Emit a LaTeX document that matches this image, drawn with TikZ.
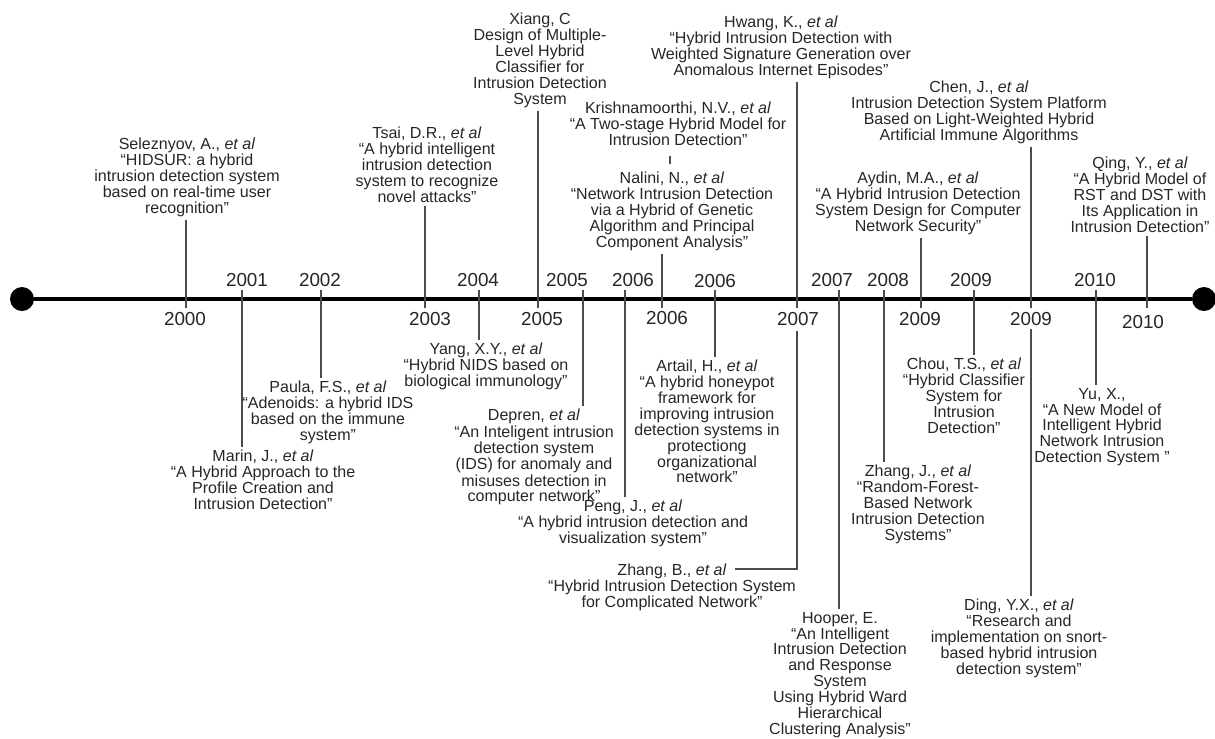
\documentclass[tikz,border=0pt]{standalone}
\usepackage{fontspec}
\setmainfont{Liberation Sans}
\usetikzlibrary{calc,positioning}
\tikzset{
	paper/.style={align=center,font=\fontsize{11.4}{11.3}\selectfont,text=black!85,inner sep=2pt,anchor=north},
	year/.style={font=\fontsize{13.4}{14}\selectfont,text=black!85,inner sep=1pt},
	link/.style={draw=black!70,line width=0.9pt},
	axis/.style={draw=black,line width=2.8pt},
	dot/.style={circle,fill=black,minimum size=6mm,inner sep=0pt},
}

\begin{document}
\begin{tikzpicture}[x=0.025cm,y=-0.025cm]
				\useasboundingbox (0,0) rectangle (1215,738);
				% time axis
				\node (start) at (22,299) [dot] {};
				\node (stop) at (1204,299) [dot] {};
				\draw[axis] (start) -- (stop);
				% papers above the axis
				\node (selez) at (187,135) [paper] {Seleznyov, A., \textit{et al}\\“HIDSUR: a hybrid\\intrusion detection system\\based on real-time user\\recognition"};
				\node (tsai) at (427,124) [paper] {Tsai, D.R., \textit{et al}\\“A hybrid intelligent\\intrusion detection\\system to recognize\\novel attacks"};
				\node (xiang) at (540,10) [paper] {Xiang, C\\Design of Multiple-\\Level Hybrid\\Classifier for\\Intrusion Detection\\System};
				\node (krish) at (678,99) [paper] {Krishnamoorthi, N.V., \textit{et al}\\“A Two-stage Hybrid Model for\\Intrusion Detection"};
				\node (nalini) at (672,169) [paper] {Nalini, N., \textit{et al}\\“Network Intrusion Detection\\via a Hybrid of Genetic\\Algorithm and Principal\\Component Analysis"};
				\node (hwang) at (781,13) [paper] {Hwang, K., \textit{et al}\\“Hybrid Intrusion Detection with\\Weighted Signature Generation over\\Anomalous Internet Episodes"};
				\node (chen) at (979,78) [paper] {Chen, J., \textit{et al}\\Intrusion Detection System Platform\\Based on Light-Weighted Hybrid\\Artificial Immune Algorithms};
				\node (aydin) at (918,169) [paper] {Aydin, M.A., \textit{et al}\\“A Hybrid Intrusion Detection\\System Design for Computer\\Network Security"};
				\node (qing) at (1140,154) [paper] {Qing, Y., \textit{et al}\\“A Hybrid Model of\\RST and DST with\\Its Application in\\Intrusion Detection"};
				% papers below the axis
				\node (marin) at (263,447) [paper] {Marin, J., \textit{et al}\\“A Hybrid Approach to the\\Profile Creation and\\Intrusion Detection"};
				\node (paula) at (328,378) [paper] {Paula, F.S., \textit{et al}\\“Adenoids: a hybrid IDS\\based on the immune\\system"};
				\node (yang) at (486,340) [paper] {Yang, X.Y., \textit{et al}\\“Hybrid NIDS based on\\biological immunology"};
				\node (depren) at (534,406) [paper,font=\fontsize{11.4}{10.6}\selectfont] {Depren, \textit{et al}\\“An Inteligent intrusion\\detection system\\(IDS) for anomaly and\\misuses detection in\\computer network"};
				\node (peng) at (633,497) [paper] {Peng, J., \textit{et al}\\“A hybrid intrusion detection and\\visualization system"};
				\node (zhangb) at (672,561) [paper] {Zhang, B., \textit{et al}\\“Hybrid Intrusion Detection System\\for Complicated Network"};
				\node (artail) at (707,357) [paper] {Artail, H., \textit{et al}\\“A hybrid honeypot\\framework for\\improving intrusion\\detection systems in\\protectiong\\organizational\\network"};
				\node (hooper) at (840,609) [paper] {Hooper, E.\\“An Intelligent\\Intrusion Detection\\and Response\\System\\Using Hybrid Ward\\Hierarchical\\Clustering Analysis"};
				\node (zhangj) at (918,462) [paper] {Zhang, J., \textit{et al}\\“Random-Forest-\\Based Network\\Intrusion Detection\\Systems"};
				\node (chou) at (964,355) [paper] {Chou, T.S., \textit{et al}\\“Hybrid Classifier\\System for\\Intrusion\\Detection"};
				\node (yu) at (1102,385) [paper] {Yu, X.,\\“A New Model of\\Intelligent Hybrid\\Network Intrusion\\Detection System "};
				\node (ding) at (1019,596) [paper] {Ding, Y.X., \textit{et al}\\“Research and\\implementation on snort-\\based hybrid intrusion\\detection system"};
				% years under the axis
				\node (y2000) at (185,319) [year] {2000};
				\node (y2003) at (430,319) [year] {2003};
				\node (y2005b) at (542,319) [year] {2005};
				\node (y2006b) at (667,318) [year] {2006};
				\node (y2007b) at (798,319) [year] {2007};
				\node (y2009b) at (920,319) [year] {2009};
				\node (y2009c) at (1031,319) [year] {2009};
				\node (y2010b) at (1143,322) [year] {2010};
				% years over the axis
				\node (y2001) at (247,280) [year] {2001};
				\node (y2002) at (320,280) [year] {2002};
				\node (y2004) at (478,280) [year] {2004};
				\node (y2005) at (567,280) [year] {2005};
				\node (y2006) at (633,280) [year] {2006};
				\node (y2006a) at (715,281) [year] {2006};
				\node (y2007) at (832,280) [year] {2007};
				\node (y2008) at (888,280) [year] {2008};
				\node (y2009) at (971,280) [year] {2009};
				\node (y2010) at (1095,280) [year] {2010};
				% ticks just under the axis
				\coordinate (T1) at (186,308);
				\coordinate (T2) at (425,308);
				\coordinate (T3) at (538,308);
				\coordinate (T4) at (662,308);
				\coordinate (T5) at (797,308);
				\coordinate (T6) at (921,308);
				\coordinate (T7) at (1031,308);
				\coordinate (T8) at (1147,308);
				% ticks just over the axis
				\coordinate (B1) at (242,290);
				\coordinate (B2) at (321,290);
				\coordinate (B3) at (479,290);
				\coordinate (B4) at (583,290);
				\coordinate (B5) at (625,290);
				\coordinate (B6) at (715,290);
				\coordinate (B7) at (839,290);
				\coordinate (B8) at (884,290);
				\coordinate (B9) at (974,290);
				\coordinate (B10) at (1096,290);
				\draw[link] (T1) -- (T1|-selez.south);
				\draw[link] (T2) -- (T2|-tsai.south);
				\draw[link] (T3) -- (T3|-xiang.south);
				\draw[link] (T4) -- (T4|-nalini.south);
				\draw[link] (T5) -- (T5|-hwang.south);
				\draw[link] (T6) -- (T6|-aydin.south);
				\draw[link] (T7) -- (T7|-chen.south);
				\draw[link] (T8) -- (T8|-qing.south);
				\draw[link] ($(krish.south)+(-8,7)$) -- ($(nalini.north)+(-2,-5)$);
				\draw[link] (B1) -- (B1|-marin.north);
				\draw[link] (B2) -- (B2|-paula.north);
				\draw[link] (B3) -- (B3|-yang.north);
				\draw[link] (B4) -- (B4|-depren.north);
				\draw[link] (B5) -- (B5|-peng.north);
				\draw[link] (B6) -- (B6|-artail.north);
				\draw[link] (B7) -- (B7|-hooper.north);
				\draw[link] (B8) -- (B8|-zhangj.north);
				\draw[link] (B9) -- (B9|-chou.north);
				\draw[link] (B10) -- (B10|-yu.north);
				% second papers hanging from a year label
				\draw[link] ($(y2007b.south)+(-1,4)$) |- ($(zhangb.north)+(63,8)$);
				\draw[link] ($(y2009c.south)+(0,2)$) -- (y2009c.south|-ding.north);
\end{tikzpicture}
\end{document}
